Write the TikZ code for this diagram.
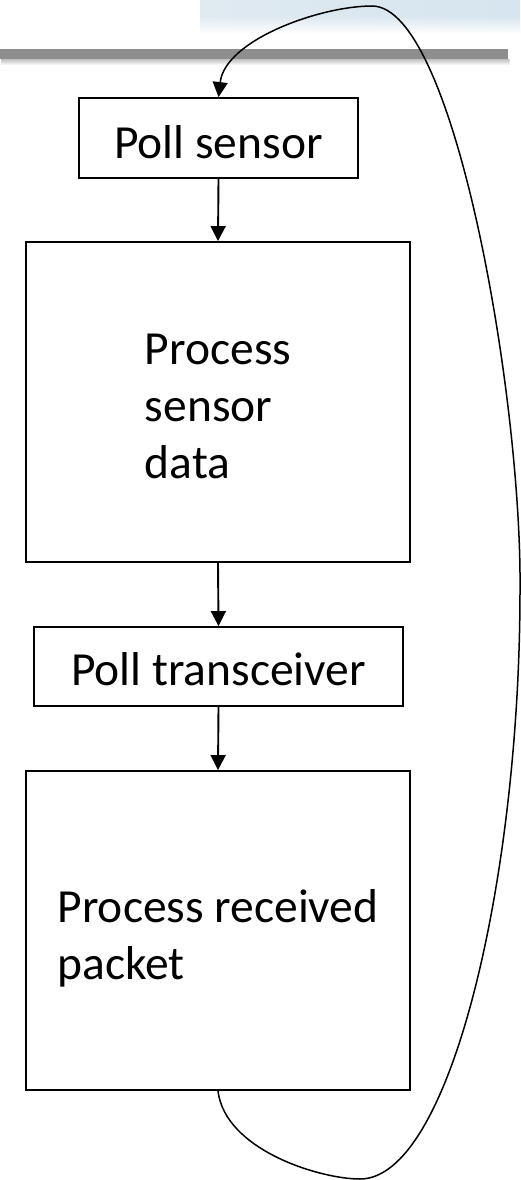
\documentclass[tikz,border=0pt]{standalone}
\usepackage{fontspec}
\setmainfont{Carlito}
\usetikzlibrary{arrows.meta,fadings}
\definecolor{barGray}{HTML}{8E8E8E}
\definecolor{skyA}{HTML}{E0EAF1}
\definecolor{skyB}{HTML}{F3F7FA}
\definecolor{skyC}{HTML}{D6E5EF}
\begin{document}
\begin{tikzpicture}[x=1pt,y=-1pt,
  stepbox/.style={draw=black, line width=1.9pt, inner sep=0pt, fill=white,
    font=\fontsize{47.5}{57}\selectfont},
  flow/.style={line width=1.9pt, -{Triangle[width=15pt,length=15pt]}},
  loopline/.style={line width=1.5pt, -{Triangle[width=15pt,length=15pt]}}]
\useasboundingbox (0,0) rectangle (520,1180);
\fill[white] (0,0) rectangle (520,1180);

% header: sky strip and grey rule with a soft shadow
\shade[left color=skyA, middle color=skyB, right color=skyC] (200,0) rectangle (520,33);
\fill[white, path fading=north] (200,16) rectangle (520,34);
\foreach \d in {1,...,6}
  \fill[black, opacity=0.045] (1,59) rectangle (508+0.4*\d,59+\d);
\fill[barGray] (0,49) rectangle (508,59);

% process steps (multi-line boxes are referenced to their last baseline)
\node[stepbox, minimum width=279pt, minimum height=80pt,
  text height=40pt, text depth=0pt] (poll) at (218.5,138) {Poll sensor};
\node[stepbox, minimum width=384pt, minimum height=320pt, align=left,
  text height=152pt, text depth=0pt] (proc) at (218,402) {Process\\sensor\\data};
\node[stepbox, minimum width=369pt, minimum height=79pt,
  text height=40pt, text depth=2pt] (trx) at (218.5,666.5) {Poll transceiver};
\node[stepbox, minimum width=384pt, minimum height=319pt, align=left,
  text height=97pt, text depth=0pt] (pkt) at (218,930.5) {Process received\\packet};

% forward flow
\draw[flow] (poll.south) -- (proc.north);
\draw[flow] (proc.south) -- (trx.north);
\draw[flow] (trx.south) -- (pkt.north);

% loop back to the start
\coordinate (lowturn) at (360,1179);
\coordinate (farright) at (520,590);
\coordinate (apex) at (372,6);
\draw[loopline] (pkt.south) .. controls (225,1150) and (320,1179) .. (lowturn)
  .. controls (450,1179) and (520,880) .. (farright)
  .. controls (522,400) and (455,6) .. (apex)
  .. controls (320,6) and (225,40) .. (poll.north);
\end{tikzpicture}
\end{document}
